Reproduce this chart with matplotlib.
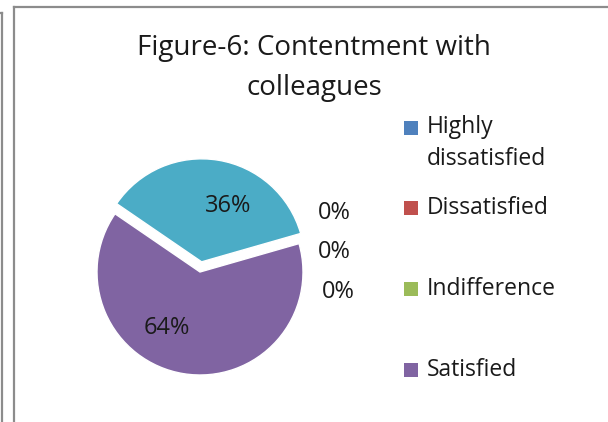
import matplotlib
matplotlib.use('Agg')
import matplotlib.pyplot as plt
from matplotlib.lines import Line2D
from matplotlib.patches import Rectangle
import numpy as np

plt.rcParams['font.family'] = ['Open Sans', 'DejaVu Sans']

categories = ['Highly dissatisfied', 'Dissatisfied', 'Indifference', 'Satisfied', 'Highly satisfied']
values = [0, 0, 0, 64, 36]
colors = ['#4F81BD', '#C0504D', '#9BBB59', '#8064A2', '#4BACC6']
explode = [0, 0, 0, 0, 0.1]
title = 'Figure-6: Contentment with\ncolleagues'

W, H = 608, 422
fig = plt.figure(figsize=(W / 100, H / 100), dpi=100)

# pie axes: 1 data unit = R pixels, centre at (cx, cy) from the top-left
R, cx, cy, half = 103.0, 200.0, 272.0, 150.0
ax = fig.add_axes([(cx - half) / W, (H - cy - half) / H, 2 * half / W, 2 * half / H])

wedges, texts, autotexts = ax.pie(values, colors=colors, explode=explode,
                                  startangle=16, counterclock=False,
                                  autopct='%1.0f%%', pctdistance=0.65,
                                  wedgeprops=dict(edgecolor='white', linewidth=1),
                                  textprops=dict(fontsize=17, color='#1a1a1a'))
ax.set_xlim(-half / R, half / R)
ax.set_ylim(-half / R, half / R)
ax.axis('off')

# percentage labels of the real slices, nudged to where Excel puts them
autotexts[3].set_position((-0.32, -0.54))
autotexts[4].set_position((0.27, 0.64))

# the empty slices get their labels stacked outside the right edge
zero_idx = [i for i, v in enumerate(values) if v == 0]
ang = np.deg2rad(wedges[zero_idx[0]].theta1)
for k, i in enumerate(zero_idx):
    autotexts[i].set_position((1.30 + 0.04 * (k == 2), np.sin(ang) + 0.3 - 0.385 * k))
    autotexts[i].set_ha('center')

fig.text(314 / W, 1 - 68 / H, title, ha='center', va='center',
         fontsize=20, color='#1a1a1a', linespacing=1.55)

# legend drawn by hand so markers sit on the first text line
leg_y = [128, 208, 289, 370]
for lab, col, y in zip(categories[:4], colors[:4], leg_y):
    fig.patches.append(Rectangle((404 / W, 1 - (y + 7) / H), 14 / W, 14 / H,
                                 transform=fig.transFigure, facecolor=col,
                                 edgecolor='none'))
    text = lab.replace('Highly ', 'Highly\n')
    ty = y + 15 if '\n' in text else y
    fig.text(427 / W, 1 - ty / H, text, ha='left', va='center',
             fontsize=16.5, color='#1a1a1a', linespacing=1.42)

# chart area frames
gray = '#8c8c8c'
fig.lines += [
    Line2D([2 / W, 2 / W], [0, 1 - 13 / H], transform=fig.transFigure, color=gray, lw=1.6),
    Line2D([0, 2 / W], [1 - 13 / H, 1 - 13 / H], transform=fig.transFigure, color=gray, lw=1.6),
    Line2D([14 / W, 14 / W], [0, 1 - 7 / H], transform=fig.transFigure, color=gray, lw=1.6),
    Line2D([14 / W, 1], [1 - 7 / H, 1 - 7 / H], transform=fig.transFigure, color=gray, lw=1.6),
]

fig.savefig('out.png', dpi=100)
